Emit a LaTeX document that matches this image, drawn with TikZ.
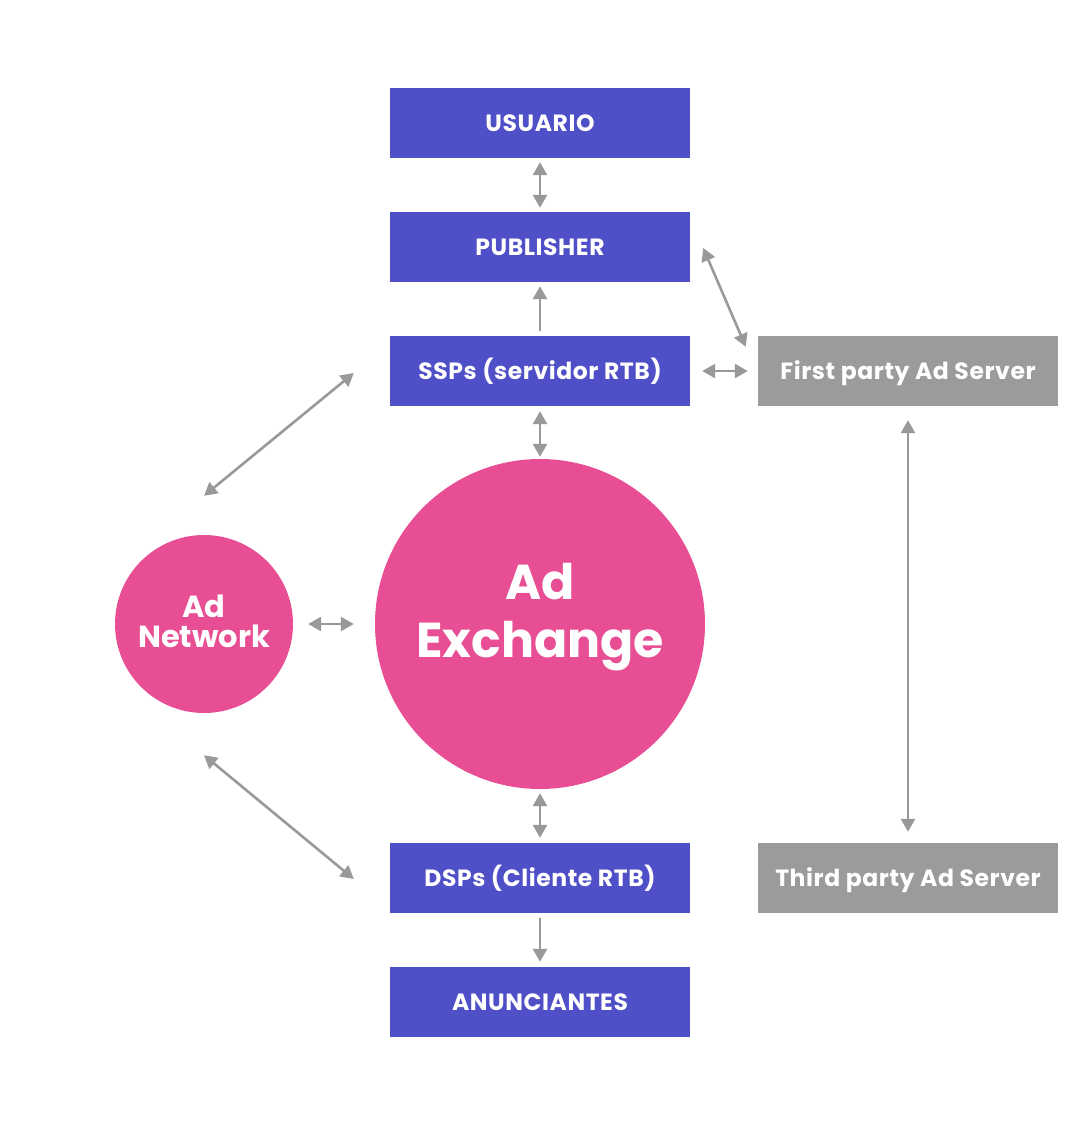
\documentclass[tikz,border=0pt]{standalone}
\usepackage{fontspec}
\setmainfont{Poppins}
\newfontfamily\boxfont{Poppins}[LetterSpace=2.5]
\usetikzlibrary{arrows.meta}
\definecolor{boxblue}{HTML}{4F4FC7}
\definecolor{circpink}{HTML}{E84E93}
\definecolor{boxgray}{HTML}{9B9B9B}
\definecolor{arrgray}{HTML}{999999}
\tikzset{
  bluebox/.style={fill=boxblue, draw=none, minimum width=300pt, minimum height=70pt, inner sep=0pt, text=white, text height=16.5pt, text depth=0pt, font=\boxfont\fontsize{23.5}{26}\selectfont\bfseries},
  graybox/.style={bluebox, fill=boxgray},
  bigcirc/.style={circle, fill=circpink, draw=none, inner sep=0pt, text=white, align=center},
  conn/.style={draw=arrgray, line width=2.6pt, -{Triangle[length=13pt,width=14pt]}},
  dconn/.style={conn, {Triangle[length=13pt,width=14pt]}-{Triangle[length=13pt,width=14pt]}}
}
\begin{document}
\begin{tikzpicture}[x=1pt,y=-1pt]
\useasboundingbox (0,0) rectangle (1080,1125);
\node[bluebox] (usu) at (540,123) {USUARIO};
\node[bluebox] (pub) at (540,247) {PUBLISHER};
\node[bluebox] (ssp) at (540,371) {SSPs (servidor RTB)};
\node[bluebox] (dsp) at (540,878) {DSPs (Cliente RTB)};
\node[bluebox] (anu) at (540,1002) {ANUNCIANTES};
\node[graybox] (fps) at (908,371) {First party Ad Server};
\node[graybox] (tps) at (908,878) {Third party Ad Server};
\node[bigcirc, minimum size=330pt] (adx) at (540,624) {};
\node[font=\fontsize{49}{58}\selectfont\bfseries, text=white, align=center] (adxt) at (540,617) {Ad\\Exchange};
\node[bigcirc, minimum size=178pt] (adn) at (204,624) {};
\node[font=\fontsize{30.5}{30}\selectfont\bfseries, text=white, align=center] (adnt) at (204,621.5) {Ad\\Network};
% connectors
\draw[dconn, shorten <=4pt, shorten >=4pt] (usu.south) -- (pub.north);
\draw[conn, shorten <=5pt, shorten >=4pt] (ssp.north) -- (pub.south);
\draw[dconn, shorten <=5pt, shorten >=2pt] (ssp.south) -- (adx.north);
\draw[dconn, shorten <=4pt, shorten >=5pt] (adx.south) -- (dsp.north);
\draw[conn, shorten <=5pt, shorten >=5pt] (dsp.south) -- (anu.north);
\draw[dconn, shorten <=12pt, shorten >=10pt] (ssp.east) -- (fps.west);
\draw[dconn, shorten <=14pt, shorten >=11pt] (fps.south) -- (tps.north);
\draw[dconn, shorten <=15pt, shorten >=21pt] (adn.east) -- (adx.west);
\draw[dconn] ([shift={(13pt,-1pt)}]pub.east) -- ([shift={(-12pt,-11pt)}]fps.north west);
\draw[dconn] ([yshift=39pt]adn.north) -- ([shift={(-36pt,-2pt)}]ssp.west);
\draw[dconn] ([yshift=-42pt]adn.south) -- ([shift={(-36pt,-1pt)}]dsp.west);
\end{tikzpicture}
\end{document}
